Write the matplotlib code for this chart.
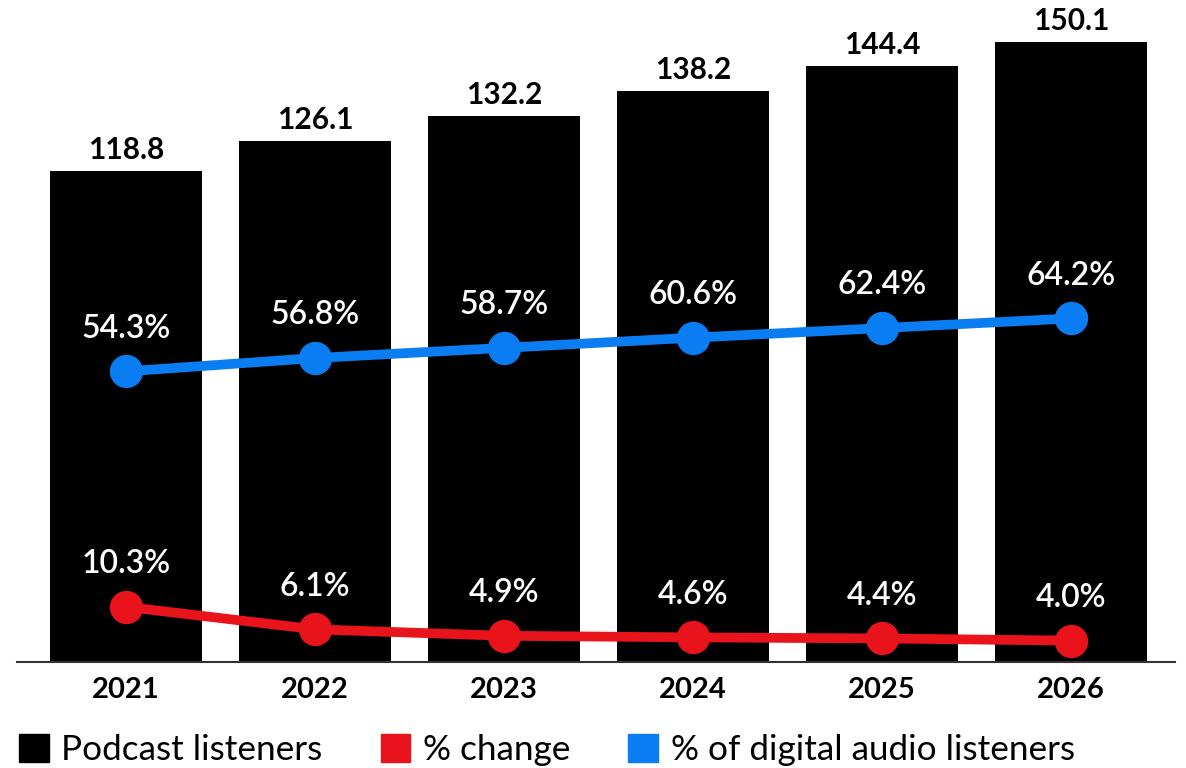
import matplotlib.pyplot as plt
from matplotlib.patches import Patch
import numpy as np

years = ["2021", "2022", "2023", "2024", "2025", "2026"]
listeners = [118.8, 126.1, 132.2, 138.2, 144.4, 150.1]
pct_change = [10.3, 6.1, 4.9, 4.6, 4.4, 4.0]
pct_digital = [54.3, 56.8, 58.7, 60.6, 62.4, 64.2]

BLACK = "#000000"
RED = "#e8131b"
BLUE = "#0a7df2"

plt.rcParams['font.family'] = ['Lato', 'DejaVu Sans']

fig = plt.figure(figsize=(11.86, 7.68), dpi=100)
ax = fig.add_axes([17 / 1186, 106 / 768, (1175 - 17) / 1186, 662 / 768])
x = np.arange(len(years))

# bars: podcast listeners (millions)
ax.bar(x, listeners, width=0.80, color=BLACK, zorder=1)
for xi, v in zip(x, listeners):
    ax.annotate(f"{v:.1f}", (xi, v), xytext=(0, 5), textcoords="offset points",
                ha="center", va="bottom", fontsize=21.5, fontweight="bold", color=BLACK)

ax.set_xlim(-0.577, 5.55)
ax.set_ylim(0, 160.3)
ax.set_xticks(x)
ax.set_xticklabels(years, fontsize=21, fontweight="bold")
ax.tick_params(axis="x", length=0, pad=11)
ax.set_yticks([])
for s in ["top", "right", "left"]:
    ax.spines[s].set_visible(False)
ax.spines["bottom"].set_color("#333333")
ax.spines["bottom"].set_linewidth(1.5)

# lines: percentages on a second axis
ax2 = ax.twinx()
ax2.set_ylim(0, 123.7)
ax2.set_yticks([])
for s in ["top", "right", "left", "bottom"]:
    ax2.spines[s].set_visible(False)

ax2.plot(x, pct_digital, color=BLUE, lw=7, marker="o", ms=23, zorder=3,
         solid_capstyle="round")
ax2.plot(x, pct_change, color=RED, lw=7, marker="o", ms=23, zorder=3,
         solid_capstyle="round")
for series in (pct_digital, pct_change):
    for xi, v in zip(x, series):
        ax2.annotate(f"{v:.1f}%", (xi, v), xytext=(0, 20), textcoords="offset points",
                     ha="center", va="bottom", fontsize=23, fontweight="semibold",
                     color="white")

handles = [Patch(color=BLACK, label="Podcast listeners"),
           Patch(color=RED, label="% change"),
           Patch(color=BLUE, label="% of digital audio listeners")]
fig.legend(handles=handles, loc="lower left", bbox_to_anchor=(17 / 1186, 0.0), ncol=3,
           frameon=False, fontsize=25.3, handlelength=0.85, handleheight=0.85,
           handletextpad=0.36, columnspacing=1.65, borderaxespad=0, borderpad=0.05)

fig.savefig("out.png", dpi=100)
